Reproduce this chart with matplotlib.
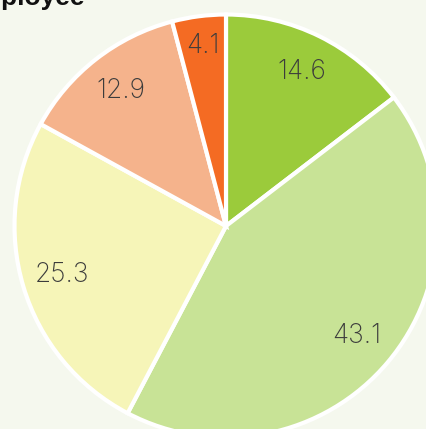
import matplotlib
matplotlib.use("Agg")
import matplotlib.pyplot as plt

# Data
categories = ["A", "B", "C", "D", "E"]
values = [14.6, 43.1, 25.3, 12.9, 4.1]
value_labels = ["14.6", "43.1", "25.3", "12.9", "4.1"]
colors = ["#9bcb3b", "#c8e396", "#f6f5b8", "#f5b38c", "#f46b23"]
title = "Employee"

W, H = 427, 429
DPI = 100
bg = "#f5f8ee"

fig = plt.figure(figsize=(W / DPI, H / DPI), dpi=DPI, facecolor=bg)
ax = fig.add_axes([0, 0, 1, 1])
ax.set_facecolor(bg)

cx, cy, r = 226.0, 226.0, 211.5  # pixel layout of the pie in the reference

wedges, texts = ax.pie(
    values,
    labels=value_labels,
    colors=colors,
    startangle=90,
    counterclock=False,
    radius=1.0,
    labeldistance=0.81,
    wedgeprops=dict(edgecolor="white", linewidth=3),
    textprops=dict(color="#3c3c3c", fontsize=19, family="Inter", weight="light",
                   ha="center", va="center"),
)
for t in texts:
    t.set_ha("center")
    t.set_va("center")
# small slice label a bit further out
x, y = texts[4].get_position()
texts[4].set_position((x * 0.86 / 0.81, y * 0.86 / 0.81))

ax.set_xlim(-cx / r, (W - cx) / r)
ax.set_ylim(-(H - cy) / r, cy / r)
ax.set_aspect("equal")
ax.axis("off")

fig.text(85 / W, 1 - 5 / H, title, ha="right", va="baseline",
         fontsize=19, weight="bold", family="Liberation Sans", color="#111111")

fig.savefig("out.png", dpi=DPI, facecolor=bg)
